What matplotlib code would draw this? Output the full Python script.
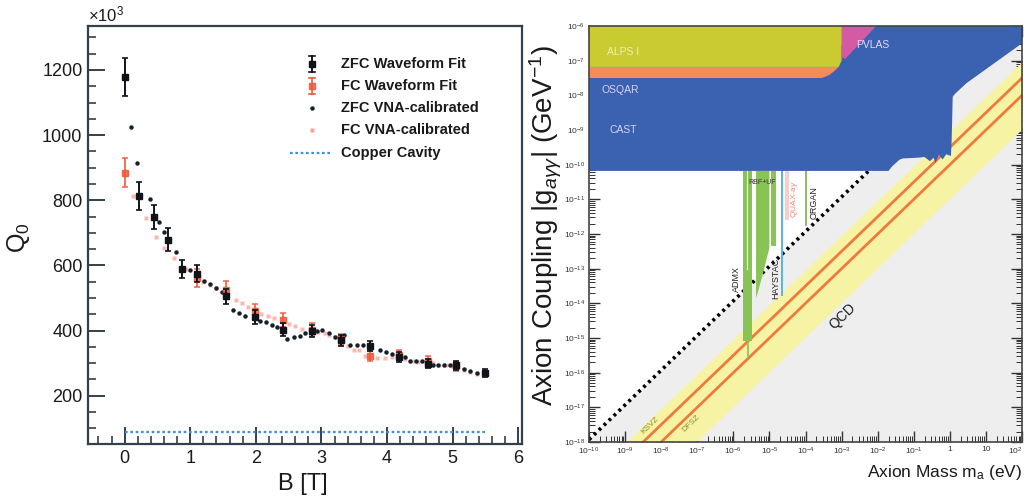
import numpy as np
import matplotlib
matplotlib.use('Agg')
import matplotlib.pyplot as plt
from matplotlib.ticker import MultipleLocator, FixedLocator, NullFormatter, LogLocator

plt.rcParams['font.family'] = ['Liberation Sans', 'DejaVu Sans']
plt.rcParams['mathtext.fontset'] = 'custom'
plt.rcParams['mathtext.rm'] = 'Liberation Sans'
plt.rcParams['mathtext.it'] = 'Liberation Sans:italic'
plt.rcParams['mathtext.bf'] = 'Liberation Sans:bold'

# ---------------- left panel data ----------------
zfc_wf_B = [0.0, 0.22, 0.44, 0.66, 0.88, 1.10, 1.54, 1.98, 2.42, 2.86, 3.30, 3.74, 4.18, 4.62, 5.06, 5.50]
zfc_wf_Q = [1178, 813, 749, 679, 590, 575, 505, 442, 403, 398, 370, 352, 318, 298, 293, 270]
zfc_wf_err = [59, 42, 37, 36, 27, 27, 22, 22, 20, 18, 17, 16, 15, 14, 14, 12]

fc_wf_B = [0.0, 1.10, 1.54, 1.98, 2.42, 2.86, 3.30, 3.74, 4.18, 4.62, 5.06]
fc_wf_Q = [885, 562, 525, 459, 432, 403, 373, 322, 326, 306, 290]
fc_wf_err = [44, 28, 26, 23, 22, 20, 18, 16, 16, 15, 14]

zfc_vna_B = [0.10, 0.19, 0.38, 0.52, 0.60, 0.78, 0.99, 1.21, 1.30, 1.40, 1.48, 1.65, 1.75, 1.84,
             2.06, 2.16, 2.25, 2.33, 2.48, 2.58, 2.67, 2.75, 2.84, 2.93, 3.01, 3.11, 3.20, 3.35,
             3.44, 3.54, 3.63, 3.89, 3.99, 4.07, 4.27, 4.35, 4.44, 4.53, 4.70, 4.78, 4.87, 4.96,
             5.18, 5.27, 5.37]
zfc_vna_Q = [1025, 913, 803, 732, 703, 640, 586, 552, 543, 530, 518, 462, 454, 446,
             431, 425, 418, 411, 375, 381, 385, 393, 398, 398, 403, 393, 381, 388,
             357, 357, 357, 342, 334, 327, 320, 308, 308, 306, 296, 296, 296, 296,
             281, 276, 271]

fc_vna_B = [0.13, 0.32, 0.47, 0.60, 0.75, 0.93, 1.20, 1.30, 1.40, 1.69, 1.79, 1.88, 2.08, 2.18,
            2.28, 2.50, 2.60, 2.70, 2.95, 3.05, 3.11, 3.20, 3.40, 3.49, 3.58, 3.67, 3.85, 3.97,
            4.08, 4.28, 4.38, 4.48, 4.70, 4.80, 4.90, 5.00, 5.18, 5.27, 5.38]
fc_vna_Q = [813, 747, 686, 655, 622, 590, 548, 540, 530, 495, 485, 472, 452, 446,
            438, 420, 413, 405, 396, 392, 388, 381, 352, 342, 340, 322, 317, 315,
            318, 312, 308, 305, 300, 296, 293, 290, 280, 273, 268]

copper_B = [0.0, 5.5]
copper_Q = [90, 90]

legend_labels = ['ZFC Waveform Fit', 'FC Waveform Fit', 'ZFC VNA-calibrated',
                 'FC VNA-calibrated', 'Copper Cavity']

# ---------------- right panel data (log10 units) ----------------
x_tick_exp = list(range(-10, 3))
x_tick_labels = ['$10^{-10}$', '$10^{-9}$', '$10^{-8}$', '$10^{-7}$', '$10^{-6}$', '$10^{-5}$',
                 '$10^{-4}$', '$10^{-3}$', '$10^{-2}$', '$10^{-1}$', '1', '10', '$10^{2}$']
y_tick_exp = list(range(-18, -5))
y_tick_labels = ['$10^{%d}$' % e for e in y_tick_exp]

cast_x = [-10, 2, 2, 0.46, 0.15, 0.08, 0.05, 0.03, -0.1, -0.2, -0.3, -0.4, -0.45, -0.55, -0.7,
          -0.9, -1.3, -1.4, -1.6, -1.7, -10]
cast_y = [-6, -6, -6.5, -7.65, -7.95, -8.04, -9.3, -9.75, -9.7, -9.85, -9.72, -9.95, -9.8, -9.9,
          -9.78, -9.8, -9.82, -9.86, -10.05, -10.18, -10.18]
alps_x = [-10, -2.85, -2.95, -3.0, -3.0, -3.08, -10]
alps_y = [-6, -6, -6.3, -6.6, -7.0, -7.18, -7.18]
osqar_x = [-10, -3.08, -3.2, -3.35, -3.55, -10]
osqar_y = [-7.18, -7.18, -7.3, -7.42, -7.5, -7.5]
pvlas_x = [-3.0, -2.04, -2.9, -3.0]
pvlas_y = [-6, -6, -6.95, -6.9]
white_x = [-10, -10, -2.25]
white_y = [-17.93, -10.18, -10.18]
band_x = [-8.94, 2, 2, -7.0]
band_y = [-18, -7.06, -9.0, -18]
ksvz_x = [-8.5, 2]
ksvz_y = [-18, -7.5]
dfsz_x = [-8.0, 2]
dfsz_y = [-18, -8.0]
limit_x = [-10, -2.25]
limit_y = [-17.93, -10.18]
admx_x = [-5.74, -5.47, -5.47, -5.74]
admx_y = [-10.18, -10.18, -15.1, -15.1]
rbf_x = [-5.37, -5.0, -5.0, -5.12, -5.22, -5.3, -5.37]
rbf_y = [-10.18, -10.18, -12.4, -12.9, -13.3, -13.6, -13.85]
uf_x = [-4.95, -4.81, -4.81, -4.95]
uf_y = [-10.18, -10.18, -12.36, -12.36]
quax_x = [-4.56, -4.46, -4.46, -4.56]
quax_y = [-10.18, -10.18, -11.6, -11.6]
haystac_x = [-4.65, -4.65]
haystac_y = [-10.18, -13.75]
organ_x = [-3.98, -3.98]
organ_y = [-10.18, -11.75]

W, H = 1027, 497
fig = plt.figure(figsize=(W / 100, H / 100), dpi=100)
fig.patch.set_facecolor('white')

spine_col = '#34404a'

# ================= LEFT PANEL =================
ax = fig.add_axes([88 / W, 1 - 444 / H, (522 - 88) / W, (444 - 26) / H])
ax.set_xlim(-0.56, 6.06)
ax.set_ylim(52, 1335)

ax.plot(copper_B, copper_Q, linestyle=(0, (1.2, 1.2)), color='#3d8fe0', lw=1.6, zorder=2)
ax.plot(fc_vna_B, fc_vna_Q, 's', ms=3.2, color='#f5a493', alpha=0.75, mec='none', zorder=3)
ax.plot(zfc_vna_B, zfc_vna_Q, 'o', ms=3.2, color='#14202a', mec='none', zorder=4)
ax.errorbar(fc_wf_B, fc_wf_Q, yerr=fc_wf_err, fmt='s', ms=4, color='#f0583a', ecolor='#f0583a',
            elinewidth=1.4, capsize=2.2, capthick=1.2, alpha=0.85, zorder=5)
ax.errorbar(zfc_wf_B, zfc_wf_Q, yerr=zfc_wf_err, fmt='s', ms=4.5, color='#101418',
            ecolor='#101418', elinewidth=1.4, capsize=2.2, capthick=1.2, zorder=6)

ax.xaxis.set_major_locator(MultipleLocator(1))
ax.xaxis.set_minor_locator(MultipleLocator(0.2))
ax.yaxis.set_major_locator(FixedLocator([200, 400, 600, 800, 1000, 1200]))
ax.yaxis.set_minor_locator(MultipleLocator(50))
ax.tick_params(which='both', direction='in', top=False, right=False, color=spine_col,
               labelsize=13, labelcolor='#1a1a1a')
ax.tick_params(which='major', length=12, width=1.4, pad=4)
ax.tick_params(which='minor', length=6, width=1.2)
for s in ax.spines.values():
    s.set_color(spine_col)
    s.set_linewidth(1.6)

ax.text(0.0, 1.005, '×10$^{3}$', transform=ax.transAxes, ha='left', va='bottom', fontsize=12,
        color='#1a1a1a')

# manual legend
lx_marker = (312 - 88) / 434
lx_text = (341 - 88) / 434
ly = [(444 - yy) / 418 for yy in (64, 86, 108, 130, 153)]
tr = ax.transAxes
ax.plot([lx_marker], [ly[0]], 's', ms=4.5, color='#101418', transform=tr)
ax.plot([lx_marker, lx_marker], [ly[0] - 0.018, ly[0] + 0.018], color='#101418', lw=1.4, transform=tr)
for d in (-0.018, 0.018):
    ax.plot([lx_marker - 0.006, lx_marker + 0.006], [ly[0] + d] * 2, color='#101418', lw=1.2, transform=tr)
ax.plot([lx_marker], [ly[1]], 's', ms=4, color='#f0583a', alpha=0.85, transform=tr)
ax.plot([lx_marker, lx_marker], [ly[1] - 0.018, ly[1] + 0.018], color='#f0583a', lw=1.4, alpha=0.85, transform=tr)
for d in (-0.018, 0.018):
    ax.plot([lx_marker - 0.006, lx_marker + 0.006], [ly[1] + d] * 2, color='#f0583a', lw=1.2, transform=tr)
ax.plot([lx_marker], [ly[2]], 'o', ms=3.2, color='#14202a', mec='none', transform=tr)
ax.plot([lx_marker], [ly[3]], 's', ms=3.2, color='#f5a493', mec='none', transform=tr)
ax.plot([(290 - 88) / 434, (330 - 88) / 434], [ly[4], ly[4]], linestyle=(0, (1.2, 1.2)),
        color='#3d8fe0', lw=1.6, transform=tr)
for yy, lab in zip(ly, legend_labels):
    ax.text(lx_text, yy, lab, transform=tr, ha='left', va='center', fontsize=10.5,
            fontweight='bold', color='#1a1a1a')

fig.text(18 / W, 1 - 238 / H, 'Q$_0$', rotation=90, ha='center', va='center', fontsize=18,
         color='#1a1a1a')
fig.text(303 / W, 1 - 484 / H, 'B [T]', ha='center', va='center', fontsize=17, color='#1a1a1a')

# ================= RIGHT PANEL =================
bx = fig.add_axes([589 / W, 1 - 442 / H, (1022 - 589) / W, (442 - 26) / H])
bx.set_xscale('log')
bx.set_yscale('log')
bx.set_xlim(1e-10, 1e2)
bx.set_ylim(1e-18, 1e-6)


def P(v):
    return [10.0 ** t for t in v]


bx.set_facecolor('#eeeeee')
bx.fill(P(white_x), P(white_y), color='white', lw=0, zorder=1)
bx.fill(P(band_x), P(band_y), color='#f7f3a4', lw=0, zorder=2)
bx.plot(P(ksvz_x), P(ksvz_y), color='#f07a3c', lw=2.0, zorder=3)
bx.plot(P(dfsz_x), P(dfsz_y), color='#f07a3c', lw=2.0, zorder=3)
bx.plot(P(limit_x), P(limit_y), color='black', lw=2.6, linestyle=(0, (0.8, 1.1)), zorder=4)
bx.fill(P(admx_x), P(admx_y), color='#88c455', lw=0, zorder=5)
bx.plot(P([-5.58, -5.58]), P([-15.1, -15.55]), color='#88c455', lw=1.2, zorder=5)
bx.plot(P([-5.62, -5.62]), P([-10.18, -13.0]), color='white', lw=0.8, zorder=5)
bx.fill(P(rbf_x), P(rbf_y), color='#88c455', lw=0, zorder=5)
bx.fill(P(uf_x), P(uf_y), color='#88c455', lw=0, zorder=5)
bx.fill(P(quax_x), P(quax_y), color='#f8cfc6', lw=0, zorder=5)
bx.plot(P(haystac_x), P(haystac_y), color='#5ab4d8', lw=1.4, zorder=5)
bx.plot(P(organ_x), P(organ_y), color='#88b455', lw=1.3, zorder=5)
bx.fill(P(cast_x), P(cast_y), color='#3b62b0', lw=0, zorder=6)
bx.fill(P(osqar_x), P(osqar_y), color='#f28c5c', lw=0, zorder=7)
bx.fill(P(alps_x), P(alps_y), color='#c9cb30', lw=0, zorder=7)
bx.fill(P(pvlas_x), P(pvlas_y), color='#d45aa5', lw=0, zorder=7)

# text labels
bx.text(10 ** -9.5, 10 ** -6.75, 'ALPS I', color='#eeeebb', fontsize=7.5, ha='left', va='center', zorder=9)
bx.text(10 ** -9.64, 10 ** -7.84, 'OSQAR', color='#d8d0f4', fontsize=7.5, ha='left', va='center', zorder=9)
bx.text(10 ** -9.44, 10 ** -9.0, 'CAST', color='#d8d0f4', fontsize=7.5, ha='left', va='center', zorder=9)
bx.text(10 ** -2.6, 10 ** -6.55, 'PVLAS', color='#e4d8f4', fontsize=7.5, ha='left', va='center', zorder=9)
bx.text(10 ** -5.2, 10 ** -10.5, 'RBF+UF', color='#333333', fontsize=5, ha='center', va='center', zorder=9)
bx.text(10 ** -5.9, 10 ** -13.3, 'ADMX', color='#222222', fontsize=6.5, rotation=90, ha='center', va='center', zorder=9)
bx.text(10 ** -4.82, 10 ** -13.27, 'HAYSTAC', color='#222222', fontsize=6.5, rotation=90, ha='center', va='center', zorder=9)
bx.text(10 ** -4.3, 10 ** -11.0, 'QUAX-a$\\gamma$', color='#f08878', fontsize=6, rotation=90, ha='center', va='center', zorder=9)
bx.text(10 ** -3.75, 10 ** -11.1, 'ORGAN', color='#222222', fontsize=6.5, rotation=90, ha='center', va='center', zorder=9)
bx.text(10 ** -8.31, 10 ** -17.52, 'KSVZ', color='#8a8a28', fontsize=6, rotation=44, ha='center', va='center', zorder=9)
bx.text(10 ** -7.18, 10 ** -17.45, 'DFSZ', color='#8a8a28', fontsize=6, rotation=44, ha='center', va='center', zorder=9)
bx.text(10 ** -2.96, 10 ** -14.38, 'QCD', color='#1a1a1a', fontsize=10, rotation=44, ha='center', va='center', zorder=9)

bx.xaxis.set_major_locator(FixedLocator(P(x_tick_exp)))
bx.xaxis.set_ticklabels(x_tick_labels)
bx.yaxis.set_major_locator(FixedLocator(P(y_tick_exp)))
bx.yaxis.set_ticklabels(y_tick_labels)
bx.xaxis.set_minor_locator(LogLocator(base=10, subs=np.arange(2, 10), numticks=100))
bx.yaxis.set_minor_locator(LogLocator(base=10, subs=np.arange(2, 10), numticks=100))
bx.xaxis.set_minor_formatter(NullFormatter())
bx.yaxis.set_minor_formatter(NullFormatter())
bx.tick_params(which='both', direction='in', top=True, right=True, color='#333333',
               labelsize=6, labelcolor='#333333')
bx.tick_params(which='major', length=8, width=1.0, pad=3)
bx.tick_params(which='minor', length=4, width=0.7)
for s in bx.spines.values():
    s.set_color('#444444')
    s.set_linewidth(1.2)
    s.set_zorder(10)
# keep the last x label inside the figure
last_lab = bx.get_xticklabels()[-1]
last_lab.set_horizontalalignment('right')

fig.text(546 / W, 1 - 226 / H, 'Axion Coupling |g$_{a\\gamma\\gamma}$| (GeV$^{-1}$)', rotation=90,
         ha='center', va='center', fontsize=20, color='#1a1a1a')
fig.text(1022 / W, 1 - 472 / H, 'Axion Mass m$_{\\rm a}$ (eV)', ha='right', va='center',
         fontsize=12.5, color='#1a1a1a')

fig.savefig('out.png', dpi=100, facecolor='white')
